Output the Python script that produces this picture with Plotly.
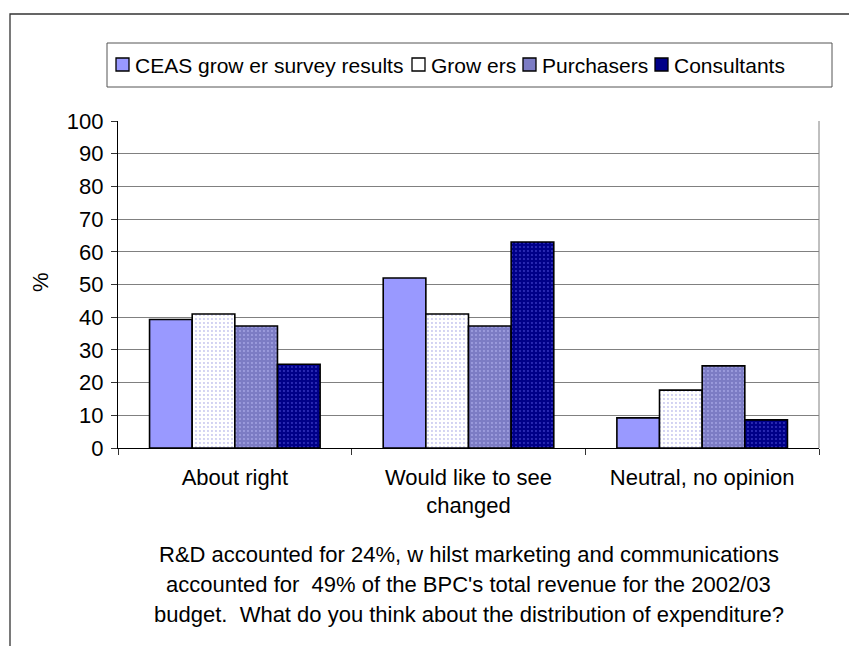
import plotly.graph_objects as go

# Survey responses (% of respondents) per answer category
categories = ["About right", "Would like to see changed", "Neutral, no opinion"]
category_labels = ["About right", "Would like to see<br>changed", "Neutral, no opinion"]
series_names = ["CEAS grow er survey results", "Grow ers", "Purchasers", "Consultants"]
ceas_values = [39.3, 52.0, 9.2]
growers_values = [41.0, 41.0, 17.7]
purchasers_values = [37.3, 37.3, 25.1]
consultants_values = [25.6, 63.0, 8.6]
y_ticks = list(range(0, 101, 10))
caption_lines = [
    "R&D accounted for 24%, w hilst marketing and communications",
    "accounted for  49% of the BPC's total revenue for the 2002/03",
    "budget.  What do you think about the distribution of expenditure?",
]

FONT = "Liberation Sans, Arial, sans-serif"
FS = 22
LEGEND_FS = 21

# plot area in pixels
W, H = 849, 646
L, R, T, B = 118, 30, 121, 198
PW, PH = W - L - R, H - T - B


def px(x):
    return (x - L) / PW


def py(y):
    return (H - B - y) / PH


styles = [
    dict(color="#9999FF", pattern=None),
    dict(color="#FFFFFF", pattern=dict(shape=".", fgcolor="#C4C4EE", bgcolor="#FFFFFF",
                                       size=4, solidity=0.18, fillmode="replace")),
    dict(color="#7C7CC4", pattern=dict(shape=".", fgcolor="#A4A4E4", bgcolor="#7C7CC4",
                                       size=4, solidity=0.18, fillmode="replace")),
    dict(color="#000088", pattern=dict(shape=".", fgcolor="#3636C0", bgcolor="#000088",
                                       size=4, solidity=0.18, fillmode="replace")),
]
values = [ceas_values, growers_values, purchasers_values, consultants_values]

fig = go.Figure()
for name, vals, st in zip(series_names, values, styles):
    marker = dict(color=st["color"], line=dict(color="#000000", width=1.6))
    if st["pattern"] is not None:
        marker["pattern"] = st["pattern"]
    fig.add_trace(go.Bar(x=categories, y=vals, name=name, marker=marker,
                         showlegend=False))

shapes = []
annotations = []

# outer frame (runs past the right and bottom edges of the page)
shapes.append(dict(type="rect", xref="paper", yref="paper",
                   x0=px(10), y0=py(700), x1=px(900), y1=py(14),
                   line=dict(color="#333333", width=1.3), fillcolor="rgba(0,0,0,0)",
                   layer="below"))
# right edge of the plot area
shapes.append(dict(type="line", xref="paper", yref="paper", x0=1, x1=1, y0=0, y1=1,
                   line=dict(color="#808080", width=1)))

# legend box
shapes.append(dict(type="rect", xref="paper", yref="paper",
                   x0=px(107), y0=py(87), x1=px(832), y1=py(43),
                   line=dict(color="#555555", width=1), fillcolor="#FFFFFF"))
legend_swatch_x = [116, 412, 523, 655]
legend_swatch_colors = ["#9999FF", "#FFFFFF", "#7C7CC4", "#000088"]
for sx, col, name in zip(legend_swatch_x, legend_swatch_colors, series_names):
    shapes.append(dict(type="rect", xref="paper", yref="paper",
                       x0=px(sx), y0=py(71), x1=px(sx + 13), y1=py(58),
                       line=dict(color="#000000", width=1.3), fillcolor=col))
    annotations.append(dict(xref="paper", yref="paper", x=px(sx + 17), y=py(65),
                            xanchor="left", yanchor="middle", showarrow=False,
                            text=name,
                            font=dict(family=FONT, size=LEGEND_FS, color="#000000")))

# y-axis title
annotations.append(dict(xref="paper", yref="paper", x=px(40), y=py(282),
                        xanchor="center", yanchor="middle", showarrow=False,
                        text="%", textangle=-90,
                        font=dict(family=FONT, size=FS, color="#000000")))

# caption under the chart
for i, line in enumerate(caption_lines):
    annotations.append(dict(xref="paper", yref="paper", x=0.5, y=py(554 + 30 * i),
                            xanchor="center", yanchor="middle", showarrow=False,
                            text=line, font=dict(family=FONT, size=FS, color="#000000")))

fig.update_layout(
    width=W, height=H,
    margin=dict(l=L, r=R, t=T, b=B, pad=0),
    paper_bgcolor="#FFFFFF", plot_bgcolor="#FFFFFF",
    barmode="group", bargap=0.27, bargroupgap=0,
    font=dict(family=FONT, size=FS, color="#000000"),
    shapes=shapes, annotations=annotations,
    showlegend=False,
)
fig.update_xaxes(
    type="category", tickmode="array", tickvals=categories, ticktext=category_labels,
    tickson="boundaries", ticks="outside", ticklen=6, tickcolor="#333333",
    showline=True, linecolor="#000000", linewidth=1.3, showgrid=False,
    ticklabelstandoff=9, tickfont=dict(family=FONT, size=FS, color="#000000"),
)
fig.update_yaxes(
    range=[0, 100], tickmode="array", tickvals=y_ticks,
    ticks="outside", ticklen=6, tickcolor="#333333",
    showline=True, linecolor="#000000", linewidth=1.3,
    showgrid=True, gridcolor="#808080", gridwidth=1, zeroline=False,
    ticklabelstandoff=3, tickfont=dict(family=FONT, size=FS, color="#000000"),
)

fig.write_html("out.html")
